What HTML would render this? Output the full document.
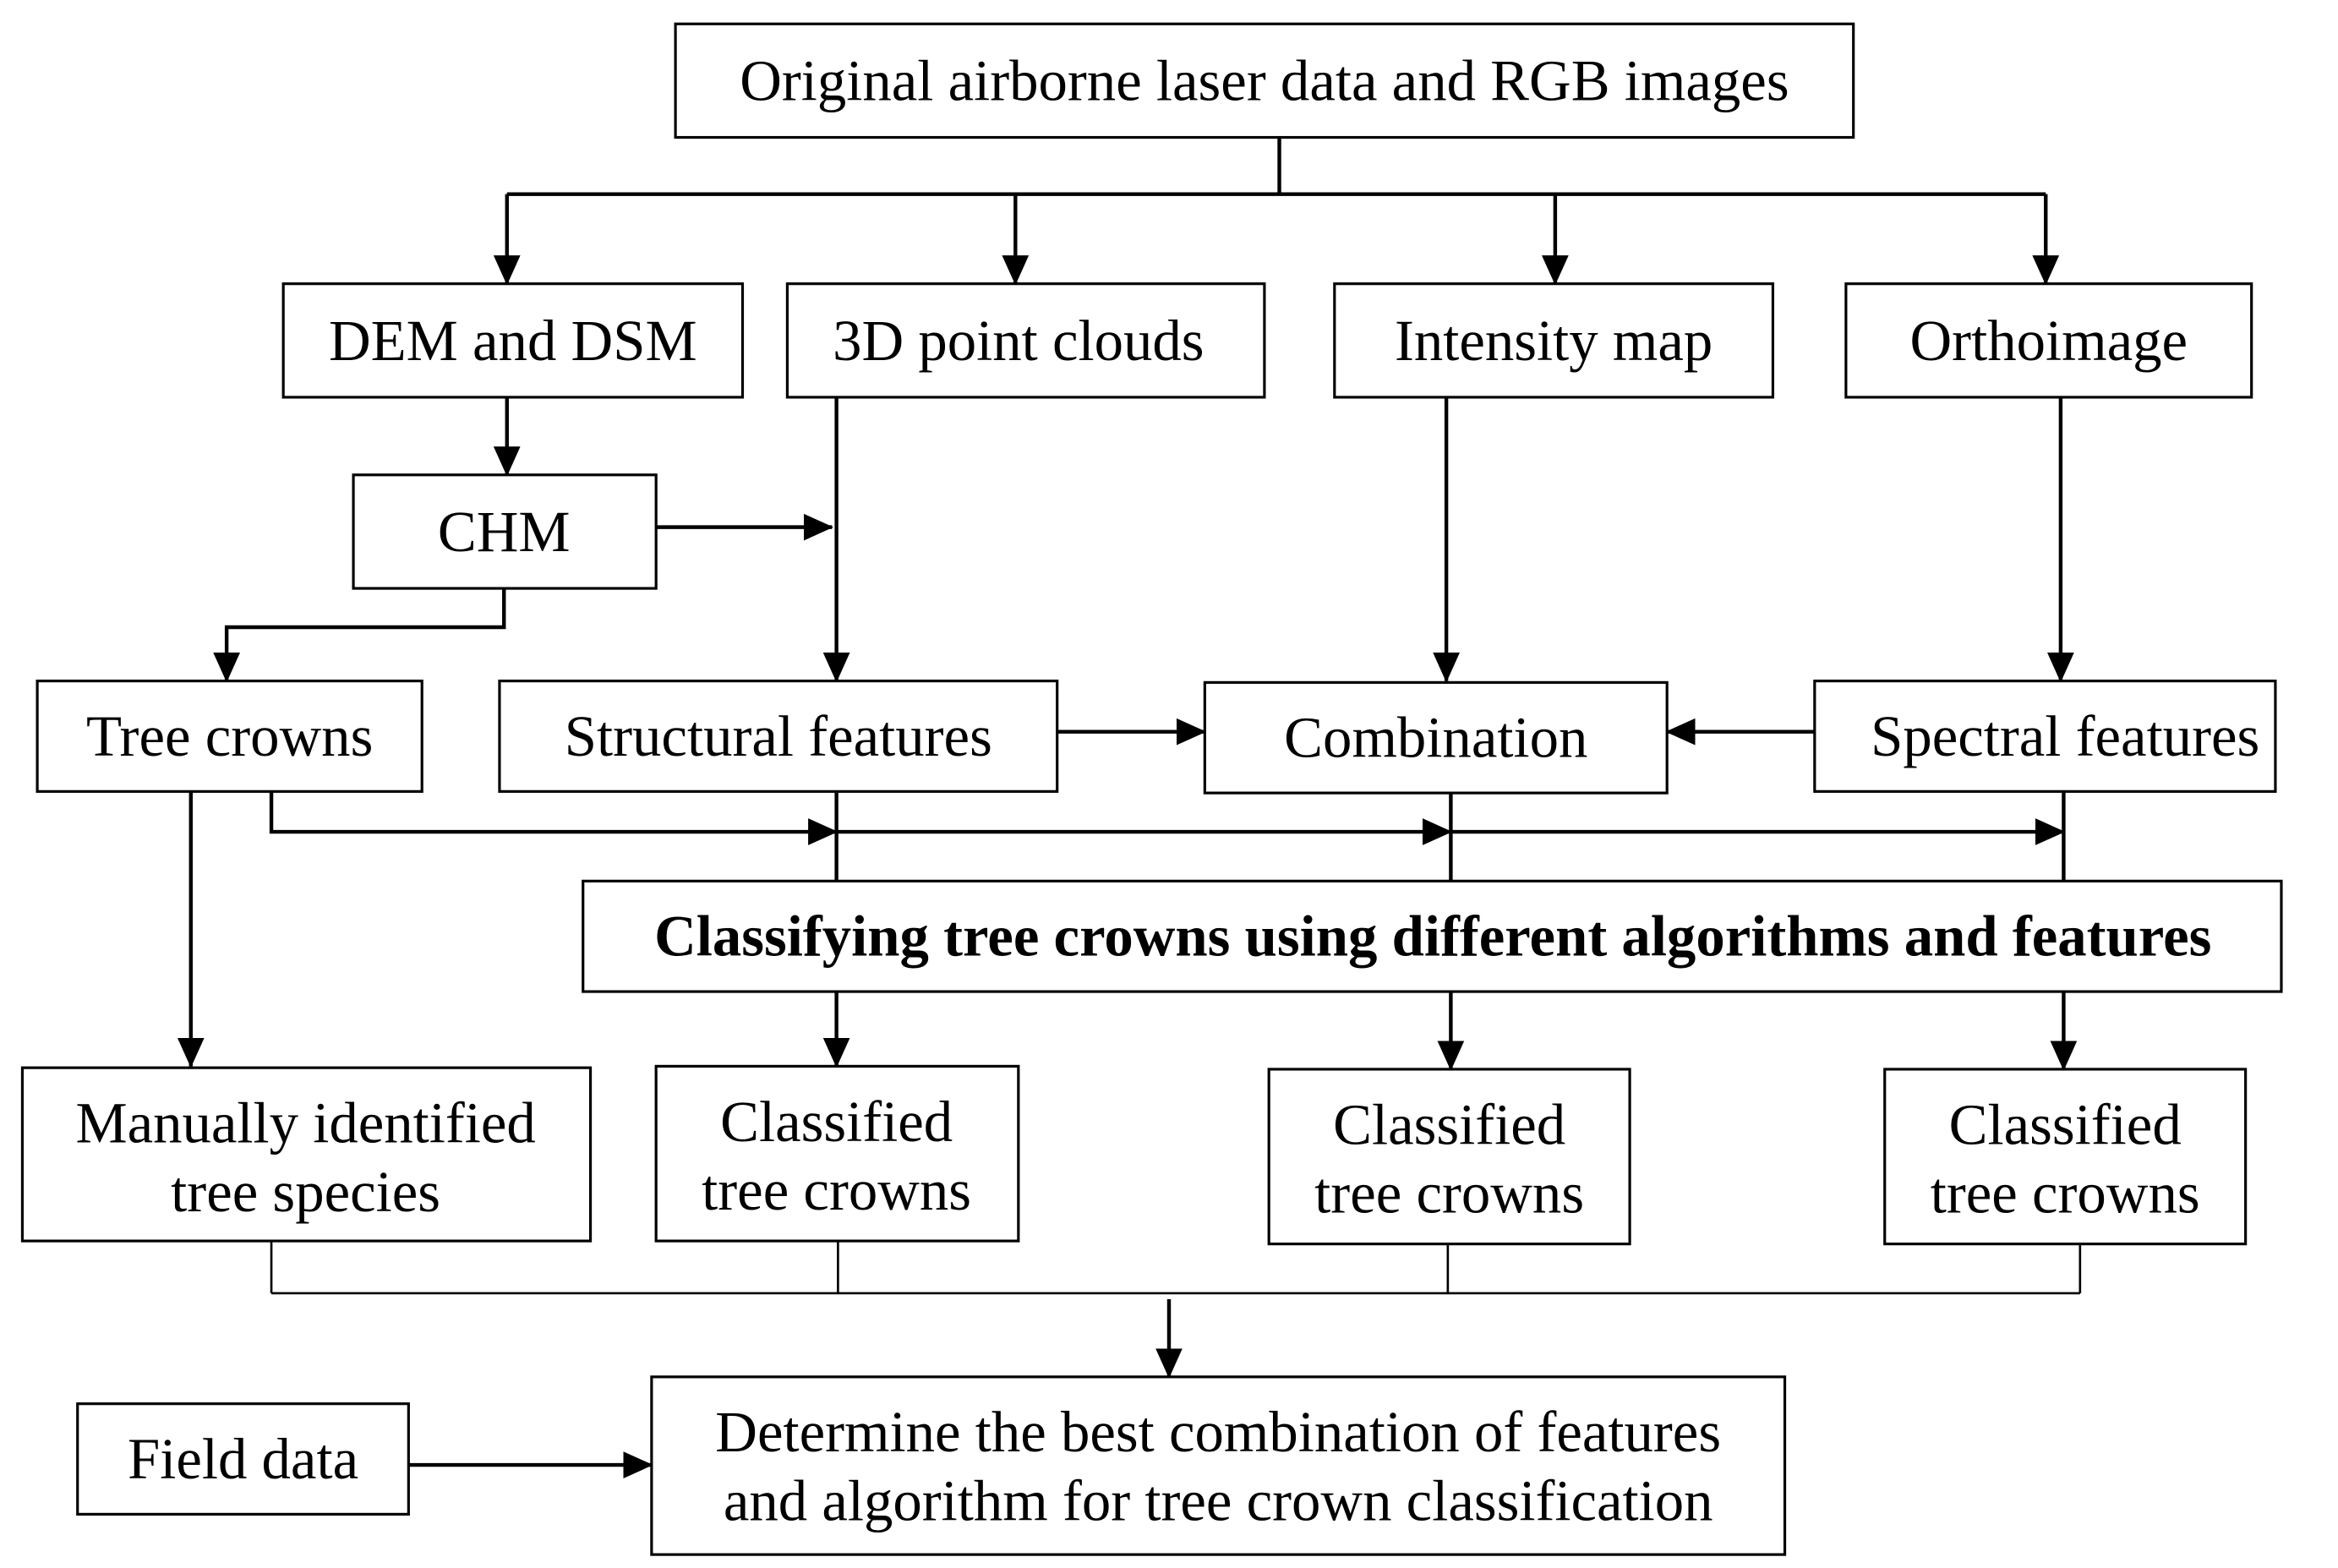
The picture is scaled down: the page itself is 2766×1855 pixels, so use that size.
<!DOCTYPE html>
<html><head><meta charset="utf-8"><style>
html,body{margin:0;padding:0;background:#fff;}
svg{display:block;}
text{font-family:"Liberation Serif",serif;font-size:39px;fill:#000;text-anchor:middle;dominant-baseline:central;}
</style></head><body>
<svg width="2766" height="1855" viewBox="0 0 1568 1050" preserveAspectRatio="none" xmlns="http://www.w3.org/2000/svg">
<defs><marker id="b" markerWidth="20" markerHeight="18" refX="19" refY="9" orient="auto" markerUnits="userSpaceOnUse"><path d="M0,0 L20,9 L0,18 z" fill="#000"/></marker></defs>
<g fill="none" stroke="#000" stroke-width="1.8">
<rect x="453" y="16" width="790" height="76"/>
<rect x="190" y="190" width="308" height="76"/>
<rect x="528" y="190" width="320" height="76"/>
<rect x="895" y="190" width="294" height="76"/>
<rect x="1238" y="190" width="272" height="76"/>
<rect x="237" y="318" width="203" height="76"/>
<rect x="25" y="456" width="258" height="74"/>
<rect x="335" y="456" width="374" height="74"/>
<rect x="808" y="457" width="310" height="74"/>
<rect x="1217" y="456" width="309" height="74"/>
<rect x="391" y="590" width="1139" height="74"/>
<rect x="15" y="715" width="381" height="116"/>
<rect x="440" y="714" width="243" height="117"/>
<rect x="851" y="716" width="242" height="117"/>
<rect x="1264" y="716" width="242" height="117"/>
<rect x="437" y="922" width="760" height="119"/>
<rect x="52" y="940" width="222" height="74"/>
</g>
<g fill="none" stroke="#000" stroke-width="2.5" marker-end="url(#b)">
<path d="M340,130 V190"/><path d="M681,130 V190"/><path d="M1043,130 V190"/><path d="M1372,130 V190"/>
<path d="M340,266 V318"/>
<path d="M440,353 H558"/>
<path d="M561,266 V456"/>
<path d="M338,394 V420 H152 V456"/>
<path d="M970,266 V456"/><path d="M1382,266 V456"/>
<path d="M709,490 H808"/><path d="M1217,490 H1118"/>
<path d="M128,530 V714"/>
<path d="M182,530 V557 H561"/><path d="M561,557 H973"/><path d="M973,557 H1384"/>
<path d="M561,664 V714"/><path d="M973,664 V716"/><path d="M1384,664 V716"/>
<path d="M784,870 V922"/>
<path d="M274,981 H437"/>
</g>
<g fill="none" stroke="#000" stroke-width="2.5">
<path d="M858,92 V130 M340,130 H1372"/>
<path d="M561,530 V590 M973,531 V590 M1384,530 V590"/>
</g>
<g fill="none" stroke="#000" stroke-width="1.5">
<path d="M182,831 V866 M562,831 V866 M971,833 V866 M1395,833 V866 M182,866 H1395"/>
</g>
<text x="848" y="54">Original airborne laser data and RGB images</text>
<text x="344" y="228">DEM and DSM</text>
<text x="683" y="228">3D point clouds</text>
<text x="1042" y="228">Intensity map</text>
<text x="1374" y="228">Orthoimage</text>
<text x="338" y="356">CHM</text>
<text x="154" y="493">Tree crowns</text>
<text x="522" y="493">Structural features</text>
<text x="963" y="494">Combination</text>
<text x="1385" y="493">Spectral features</text>
<text x="961" y="627" font-weight="bold">Classifying tree crowns using different algorithms and features</text>
<text x="205" y="752">Manually identified</text><text x="205" y="798">tree species</text>
<text x="561" y="751">Classified</text><text x="561" y="797">tree crowns</text>
<text x="972" y="753">Classified</text><text x="972" y="799">tree crowns</text>
<text x="1385" y="753">Classified</text><text x="1385" y="799">tree crowns</text>
<text x="817" y="959">Determine the best combination of features</text>
<text x="817" y="1005">and algorithm for tree crown classification</text>
<text x="163" y="977">Field data</text>
</svg>
</body></html>
